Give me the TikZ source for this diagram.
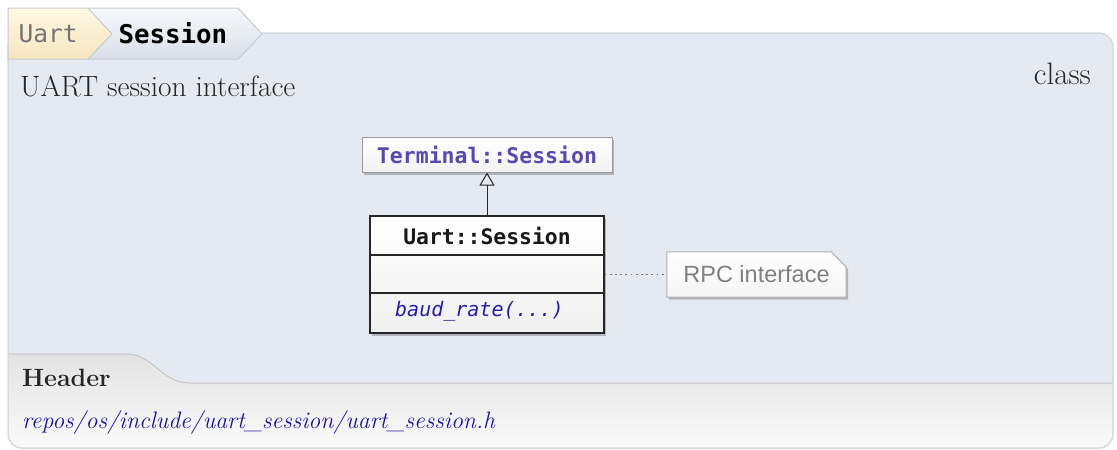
\documentclass[tikz,border=0pt]{standalone}
\usepackage{fontspec}
\setmonofont{DejaVu Sans Mono}
\newfontfamily\rpcfont{Liberation Sans}
\usetikzlibrary{shadows,arrows.meta}
\definecolor{panel}{HTML}{E5E9F2}
\definecolor{panelborder}{HTML}{D6D9DE}
\definecolor{hdrtop}{HTML}{E2E2E2}
\definecolor{hdrbot}{HTML}{FBFBFB}
\definecolor{hdrline}{HTML}{C4C4C4}
\definecolor{uarttop}{HTML}{FFF8E4}
\definecolor{uartbot}{HTML}{F6E6C0}
\definecolor{sesstop}{HTML}{F6F8FB}
\definecolor{sessbot}{HTML}{D9DFE9}
\definecolor{tabborder}{HTML}{C6C9CF}
\definecolor{termtext}{HTML}{5A48AE}
\definecolor{methtext}{HTML}{2A1EA0}
\definecolor{pathtext}{HTML}{1E1296}
\definecolor{darktext}{HTML}{262626}
\begin{document}
\begin{tikzpicture}[x=1pt,y=-1pt,
  boxshadow/.style={drop shadow={shadow xshift=2pt,shadow yshift=-2.5pt,opacity=0.22,fill=black}},
  termbox/.style={draw=black!40,line width=1pt,top color=white,bottom color=black!5,boxshadow,
    minimum width=250pt,minimum height=35pt,inner sep=0pt},
  classbox/.style={draw=black!85,line width=1.2pt,top color=white,bottom color=black!6,boxshadow,
    minimum width=234pt,minimum height=117pt,inner sep=0pt},
  noteframe/.style={minimum width=179pt,minimum height=45pt,inner sep=0pt},
  notepath/.style={draw=black!30,line width=1pt,top color=white,bottom color=black!4,boxshadow},
  inherit/.style={-{Triangle[open,length=13pt,width=15pt]},line width=1pt,draw=black!85},
  noteline/.style={draw=black!55,line width=1.8pt,dash pattern=on 1.8pt off 3.4pt}]
\useasboundingbox (0,0) rectangle (1117,450);
% panel
\begin{scope}
  \clip[rounded corners=14] (8,33) rectangle (1113,448);
  \shade[top color=hdrtop,bottom color=hdrbot] (0,350) rectangle (1117,450);
  \fill[panel] (0,0) -- (1117,0) -- (1117,383) -- (190,383)
    .. controls (160,383) and (155,354) .. (125,354) -- (0,354) -- cycle;
  \draw[hdrline,line width=1pt] (1117,383) -- (190,383)
    .. controls (160,383) and (155,354) .. (125,354) -- (0,354);
\end{scope}
\draw[panelborder,line width=1.5pt,rounded corners=14] (8,33) rectangle (1113,448);
% breadcrumb tabs
\path[draw=tabborder,line width=1pt,top color=sesstop,bottom color=sessbot]
  (88,8) -- (238,8) -- (262,34) -- (238,59) -- (88,59) -- cycle;
\path[draw=tabborder,line width=1pt,top color=uarttop,bottom color=uartbot]
  (8,59) -- (8,8) -- (88,8) -- (112,34) -- (88,59) -- cycle;
\node[font=\ttfamily\fontsize{24.5}{28}\selectfont,text=black!55,anchor=west] (tabuart) at (15,34) {Uart};
\node[font=\ttfamily\bfseries\fontsize{25.8}{29}\selectfont,text=black,anchor=west] (tabsess) at (115,33) {Session};
% titles
\node[font=\fontsize{29.4}{33}\selectfont,text=darktext,anchor=base west,inner sep=0pt] (brief) at (20,96) {UART session interface};
\node[font=\fontsize{31}{35}\selectfont,text=darktext,anchor=base east,inner sep=0pt] (kind) at (1091,84) {class};
% diagram
\node[termbox] (term) at (487,154.5) {};
\node[font=\ttfamily\bfseries\fontsize{21.5}{25}\selectfont,text=termtext] (termlbl) at (term.center) {Terminal::Session};
\node[classbox] (uart) at (487,274.5) {};
\draw[black!85,line width=1.2pt] (370,255) -- (604,255) (370,293) -- (604,293);
\node[font=\ttfamily\bfseries\fontsize{21.4}{25}\selectfont,text=black!90] (uartlbl) at (487,236) {Uart::Session};
\node[font=\ttfamily\itshape\fontsize{20}{24}\selectfont,text=methtext,anchor=west,inner sep=0pt] (meth) at (395,311) {baud\_rate(...)};
\draw[inherit] (uart.north) -- (term.south);
\node[noteframe] (note) at (756.5,274.5) {};
\path[notepath] (note.south west) -- (note.north west) -- ([xshift=-15pt]note.north east)
  -- ([yshift=-15pt]note.north east) -- (note.south east) -- cycle;
\node[font=\rpcfont\fontsize{23.5}{27}\selectfont,text=black!50] (notelbl) at (note.center) {RPC interface};
\draw[noteline] (uart.east) -- (note.west);
% header section
\node[font=\bfseries\fontsize{25}{29}\selectfont,text=darktext,anchor=base west,inner sep=0pt] (hdr) at (22,386) {Header};
\node[font=\itshape\fontsize{23.8}{28}\selectfont,text=pathtext,anchor=base west,inner sep=0pt] (path) at (22,428) {repos/os/include/uart\_session/uart\_session.h};
\end{tikzpicture}
\end{document}
